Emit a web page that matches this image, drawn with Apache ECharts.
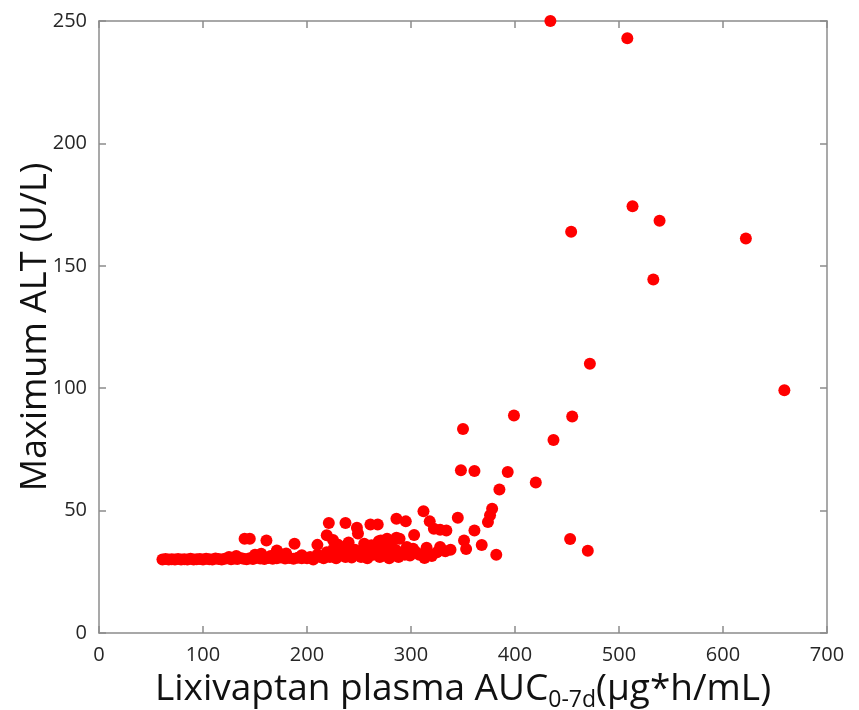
<!DOCTYPE html>
<html>
<head>
<meta charset="utf-8">
<script src="https://cdn.jsdelivr.net/npm/echarts@6/dist/echarts.min.js"></script>
<style>
  html, body { margin: 0; padding: 0; background: #fff; }
  #main { width: 859px; height: 710px; }
</style>
</head>
<body>
<div id="main"></div>
<script>
// AUC (µg*h/mL) values
var aucValues = [
  61, 64, 67, 70, 73, 76, 79, 82, 85, 88, 91, 94, 97, 100, 103, 106, 109, 112, 115, 118,
  121, 124, 127, 130, 133, 136, 139, 142, 145, 148, 151, 155, 159, 163, 167, 171, 175, 179, 183, 187,
  191, 195, 125, 132, 150, 165, 172, 180, 195, 156, 171, 140, 145, 161, 188,
  200, 203, 206, 210, 213, 216, 219, 222, 225, 228, 231, 234, 237, 240, 243, 246, 249, 252, 255, 258,
  261, 264, 267, 270, 273, 276, 279, 282, 285, 288, 291, 294,
  219, 221, 237, 248, 249, 261, 268, 262, 269, 271, 277, 281, 286, 286, 295, 289, 230, 240, 255, 210, 225,
  296, 299, 302, 303, 312, 313, 315, 318, 322, 328, 334, 328, 333, 338, 345, 348, 350, 351, 353, 361,
  361, 368, 374, 376, 378, 382, 385, 393, 399, 420, 437, 453, 455, 470, 472, 305, 308, 320, 325,
  434, 508, 513, 539, 454, 622, 533, 659
];
// Maximum ALT (U/L) values, same order
var altValues = [
  30, 30.2, 30, 30.1, 30, 30.2, 30, 30.1, 30, 30.3, 30, 30.1, 30.2, 30, 30.3, 30.1, 30, 30.4, 30.2, 30,
  30.3, 30.5, 30.1, 30.4, 30.2, 30.6, 30.3, 30.1, 30.5, 30.2, 30.7, 30.4, 30.2, 30.6, 30.3, 30.5, 30.8, 30.4, 30.6, 30.3,
  30.7, 30.5, 31, 31.5, 32, 31.5, 33, 32.5, 31.8, 32.4, 33.7, 38.5, 38.5, 37.8, 36.5,
  30.5, 31, 30, 32, 31, 30.5, 33, 31, 34, 30.5, 32, 35, 31, 33, 30.8, 34, 32, 31, 35, 30.5,
  33, 32, 34.5, 31, 33, 35, 30.5, 32, 34, 31, 33, 32,
  39.9, 44.9, 44.9, 43, 40.6, 44.3, 44.3, 35.8, 37.5, 37.8, 38.5, 37.4, 38.9, 46.7, 45.6, 38.5, 36, 37, 36.5, 36, 38,
  35.1, 31.7, 34.4, 40, 49.7, 30.6, 34.8, 45.6, 42.6, 42.2, 41.9, 35.1, 33.4, 34, 47.1, 66.5, 83.3, 37.8, 34.3, 66.2,
  41.9, 35.9, 45.3, 48.1, 50.8, 32, 58.6, 65.8, 88.8, 61.5, 78.8, 38.4, 88.4, 33.6, 110, 33, 32, 31.5, 33,
  250, 243, 174.3, 168.4, 163.9, 161.2, 144.4, 99.2
];
var xTicks = [0, 100, 200, 300, 400, 500, 600, 700];
var yTicks = [0, 50, 100, 150, 200, 250];

var points = aucValues.map(function (x, i) { return [x, altValues[i]]; });

var myChart = echarts.init(document.getElementById('main'));

var axisLineStyle = { color: '#8c8c8c', width: 1.5 };
var labelFont = { fontFamily: 'Open Sans', fontSize: 20, color: '#262626' };

var option = {
    animation: false,
    grid: { left: 99, right: 32, top: 21, bottom: 77, outerBoundsMode: 'none' },
    xAxis: [{
        type: 'value',
        min: xTicks[0], max: xTicks[xTicks.length - 1], interval: 100,
        axisLine: { onZero: false, lineStyle: axisLineStyle },
        axisTick: { inside: true, length: 7, lineStyle: axisLineStyle },
        splitLine: { show: false },
        axisLabel: Object.assign({ margin: 12 }, labelFont),
        name: '{a|Lixivaptan plasma AUC}{s|0-7d}{a|(μg*h/mL)}',
        nameLocation: 'middle',
        nameGap: 38,
        nameMoveOverlap: false,
        nameTextStyle: {
            rich: {
                a: { fontFamily: 'Open Sans', fontSize: 37, color: '#111', verticalAlign: 'bottom' },
                s: { fontFamily: 'Open Sans', fontSize: 23, color: '#111', verticalAlign: 'bottom', padding: [0, 0, -4, 0] }
            }
        }
    }, {
        type: 'value', position: 'top',
        min: xTicks[0], max: xTicks[xTicks.length - 1], interval: 100,
        axisLine: { onZero: false, lineStyle: axisLineStyle },
        axisTick: { inside: true, length: 7, lineStyle: axisLineStyle },
        axisLabel: { show: false }, splitLine: { show: false }
    }],
    yAxis: [{
        type: 'value',
        min: yTicks[0], max: yTicks[yTicks.length - 1], interval: 50,
        axisLine: { show: true, onZero: false, lineStyle: axisLineStyle },
        axisTick: { show: true, inside: true, length: 7, lineStyle: axisLineStyle },
        splitLine: { show: false },
        axisLabel: Object.assign({ margin: 12 }, labelFont),
        name: 'Maximum ALT (U/L)',
        nameLocation: 'middle',
        nameGap: 45,
        nameMoveOverlap: false,
        nameTextStyle: { fontFamily: 'Open Sans', fontSize: 36, color: '#111' }
    }, {
        type: 'value', position: 'right',
        min: yTicks[0], max: yTicks[yTicks.length - 1], interval: 50,
        axisLine: { show: true, onZero: false, lineStyle: axisLineStyle },
        axisTick: { show: true, inside: true, length: 7, lineStyle: axisLineStyle },
        axisLabel: { show: false }, splitLine: { show: false }
    }],
    series: [{
        type: 'scatter',
        data: points,
        symbolSize: 12,
        clip: false,
        itemStyle: { color: '#ff0000', opacity: 1 }
    }]
};

myChart.setOption(option);
</script>
</body>
</html>
